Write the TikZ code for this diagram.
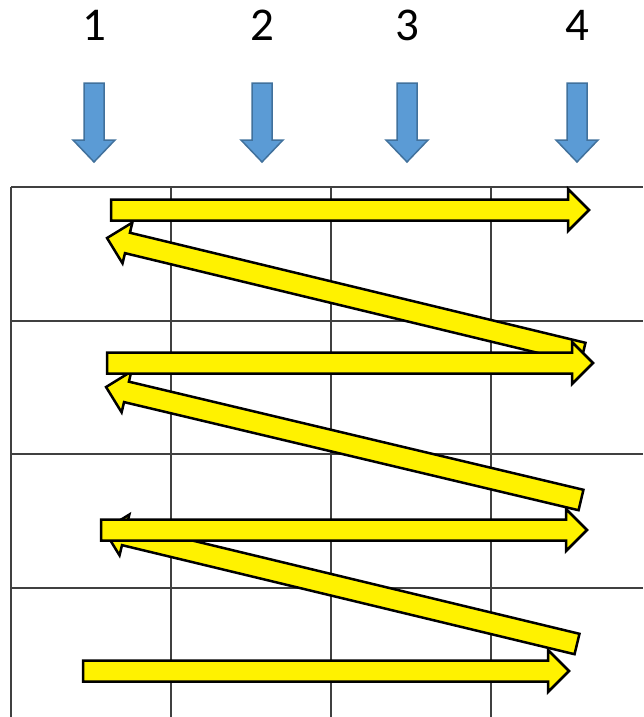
\documentclass[tikz,border=0pt]{standalone}
\usepackage{fontspec}
\setmainfont{Carlito}
\usetikzlibrary{calc}

\definecolor{colblue}{HTML}{5B9BD5}
\definecolor{colline}{HTML}{41719C}

\tikzset{
	gridline/.style={draw=black!75, line width=1.2pt},
	scanarrow/.style={draw=black, fill=yellow, line width=2.5pt, line join=miter},
	colarrow/.style={draw=colline, fill=colblue, line width=1.5pt},
	colnum/.style={font=\fontsize{47}{50}\selectfont, inner sep=0pt},
	downarrow/.pic={
		\draw [colarrow] ( -10, 0 ) -- ( 10, 0 ) -- ( 10, 57 ) -- ( 21, 57 ) -- ( 0, 79 ) -- ( -21, 57 ) -- ( -10, 57 ) -- cycle;
	},
}

% широкая стрелка от #1 к #2
\newcommand{\scanarrow}[2]{%
	\draw [scanarrow] let \p1 = (#1), \p2 = (#2),
		\n1 = {atan2(\y2-\y1, \x2-\x1)}, \n2 = {veclen(\x2-\x1, \y2-\y1)} in
		[shift={(\p1)}, rotate=\n1]
		( 0, -10.5 ) -- ( {\n2-21}, -10.5 ) -- ( {\n2-21}, -21 ) -- ( \n2, 0 )
		-- ( {\n2-21}, 21 ) -- ( {\n2-21}, 10.5 ) -- ( 0, 10.5 ) -- cycle;%
}

\begin{document}
\begin{tikzpicture}[x=1pt, y=-1pt]
		\useasboundingbox ( 0, 0 ) rectangle ( 643, 717 );

		% сетка
		\foreach \x in {11, 171, 331, 491}
			\draw [gridline] ( \x, 187 ) -- ( \x, 717 );
		\foreach \y in {187, 321, 454, 588}
			\draw [gridline] ( 11, \y ) -- ( 643, \y );

		% номера столбцов
		\foreach \c/\x in {1/94, 2/262, 3/407, 4/577} {
			\node [colnum] (num\c) at ( \x, 25 ) {\c};
			\pic at ( \x, 83 ) {downarrow};
		}

		% точки обхода
		\coordinate (r1a) at ( 111, 210 );
		\coordinate (r1b) at ( 589, 210 );
		\coordinate (d1a) at ( 583, 353 );
		\coordinate (d1b) at ( 107, 238 );
		\coordinate (r2a) at ( 107, 363 );
		\coordinate (r2b) at ( 593, 363 );
		\coordinate (d2a) at ( 581, 500 );
		\coordinate (d2b) at ( 106, 387 );
		\coordinate (r3a) at ( 101, 530 );
		\coordinate (r3b) at ( 587, 530 );
		\coordinate (d3a) at ( 577, 644 );
		\coordinate (d3b) at ( 104, 530 );
		\coordinate (r4a) at ( 83, 671 );
		\coordinate (r4b) at ( 569, 671 );

		% обратные ходы
		\scanarrow{d1a}{d1b}
		\scanarrow{d2a}{d2b}
		\scanarrow{d3a}{d3b}

		% прямые ходы
		\scanarrow{r1a}{r1b}
		\scanarrow{r2a}{r2b}
		\scanarrow{r3a}{r3b}
		\scanarrow{r4a}{r4b}
	\end{tikzpicture}
\end{document}
